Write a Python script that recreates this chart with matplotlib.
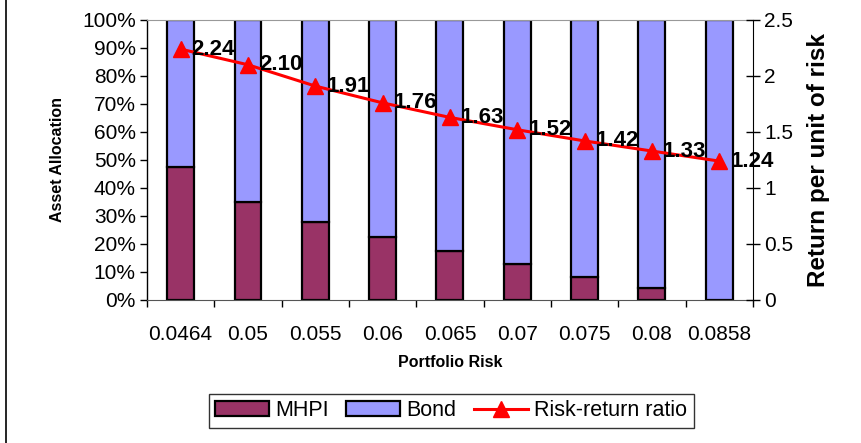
import matplotlib.pyplot as plt
from matplotlib.lines import Line2D
from matplotlib.patches import Patch
from matplotlib.ticker import PercentFormatter

plt.rcParams['font.family'] = ['Liberation Sans', 'DejaVu Sans']

# Data
risk_labels = ["0.0464", "0.05", "0.055", "0.06", "0.065", "0.07", "0.075", "0.08", "0.0858"]
mhpi = [47.6, 35.1, 28.0, 22.4, 17.5, 12.7, 8.3, 4.4, 0.0]
bond = [100 - m for m in mhpi]
ratio = [2.24, 2.10, 1.91, 1.76, 1.63, 1.52, 1.42, 1.33, 1.24]

mhpi_color = "#993366"
bond_color = "#9999ff"

fig = plt.figure(figsize=(8.62, 4.43), dpi=100)
ax = fig.add_axes([0.1705, 0.3228, 0.703, 0.6321])
x = range(len(risk_labels))

ax.bar(x, mhpi, width=0.4, color=mhpi_color, edgecolor="black", linewidth=1.6, zorder=2)
ax.bar(x, bond, width=0.4, bottom=mhpi, color=bond_color, edgecolor="black", linewidth=1.6, zorder=2)

ax.set_xlim(-0.5, len(risk_labels) - 0.5)
ax.set_ylim(0, 100)
ax.set_yticks(range(0, 101, 10))
ax.yaxis.set_major_formatter(PercentFormatter(decimals=0))
ax.set_xticks(x)
ax.set_xticklabels(risk_labels)
ax.set_xticks([i + 0.5 for i in range(-1, len(risk_labels))], minor=True)
ax.tick_params(axis="x", which="major", length=0, pad=18, labelsize=15)
ax.tick_params(axis="x", which="minor", length=5, width=1, direction="out")
ax.tick_params(axis="y", length=5, width=1, direction="out", labelsize=15, pad=3)
ax.spines["top"].set_color("#999999")
ax.spines["right"].set_visible(False)
ax.spines["left"].set_linewidth(1)
ax.spines["bottom"].set_color("#555555")
ax.set_xlabel("Portfolio Risk", fontsize=11.5, fontweight="bold", labelpad=8)
ax.set_ylabel("Asset Allocation", fontsize=11.5, fontweight="bold", labelpad=12)

ax2 = ax.twinx()
ax2.plot(x, ratio, color="red", linewidth=2.2, marker="^", markersize=12, zorder=3)
for xi, v in zip(x, ratio):
    ax2.annotate(f"{v:.2f}", (xi, v), xytext=(8, 0), textcoords="offset points",
                 ha="left", va="center", fontsize=16, fontweight="bold")
ax2.set_ylim(0, 2.5)
ax2.set_yticks([0, 0.5, 1, 1.5, 2, 2.5])
ax2.set_yticklabels(["0", "0.5", "1", "1.5", "2", "2.5"])
ax2.tick_params(axis="y", length=10, width=1, direction="inout", labelsize=15, pad=3)
ax2.spines["top"].set_visible(False)
ax2.spines["left"].set_visible(False)
ax2.spines["bottom"].set_visible(False)
ax2.set_ylabel("Return per unit of risk", fontsize=17.5, fontweight="bold", labelpad=10)

handles = [
    Patch(facecolor=mhpi_color, edgecolor="black", linewidth=1.6),
    Patch(facecolor=bond_color, edgecolor="black", linewidth=1.6),
    Line2D([0], [0], color="red", linewidth=2.2, marker="^", markersize=12),
]
leg = fig.legend(handles, ["MHPI", "Bond", "Risk-return ratio"], loc="center",
                 bbox_to_anchor=(0.5235, 0.0728), ncol=3, fontsize=15.5, frameon=True,
                 fancybox=False, shadow=False, handlelength=2.5, handletextpad=0.3,
                 columnspacing=0.8, borderpad=0.3)
leg.get_frame().set_edgecolor("black")
leg.get_frame().set_linewidth(1)

# figure border on the left
fig.add_artist(Line2D([0.007, 0.007], [0, 1], color="black", linewidth=1.2, transform=fig.transFigure))

fig.savefig("out.png", dpi=100)
